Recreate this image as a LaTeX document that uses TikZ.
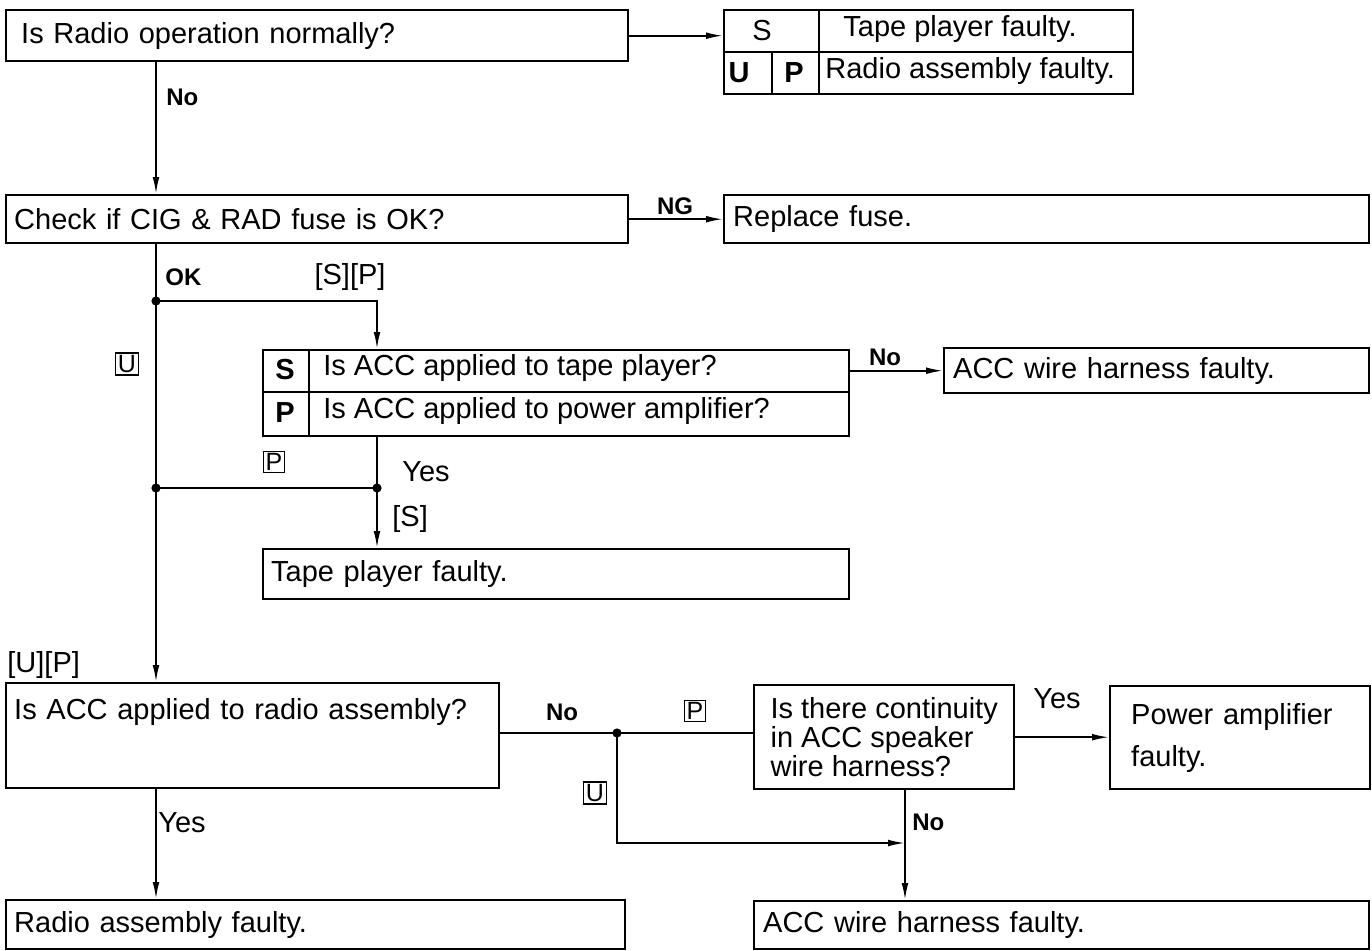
\documentclass[tikz,border=0pt]{standalone}
\usepackage{fontspec}
\setmainfont{Liberation Sans}
\usetikzlibrary{arrows.meta,calc}
\newcommand\myfont{\fontsize{14.5pt}{16.5pt}\selectfont}
\newcommand\myfontc{\fontsize{14.5pt}{14.3pt}\selectfont}
\newcommand\lblfont{\fontsize{12pt}{13pt}\selectfont\bfseries}
\newcommand\bxl[1]{{\fontsize{12.5pt}{13pt}\selectfont\setlength\fboxsep{0.8pt}\setlength\fboxrule{0.6pt}\fbox{#1}}}
\begin{document}
\begin{tikzpicture}[x=0.5pt,y=-0.5pt,
  box/.style={draw, line width=1.2pt, anchor=north west, inner ysep=0pt, align=left, font=\myfont},
  grid/.style={line width=1.1pt},
  conn/.style={line width=0.9pt},
  arr/.style={line width=0.9pt, -{Latex[length=8.5pt,width=3.4pt]}},
  lbl/.style={font=\lblfont, inner sep=0pt},
  txt/.style={font=\myfont, inner sep=0pt},
  dot/.style={fill=black}]
\useasboundingbox (0,0) rectangle (1372,950);
% ---- boxes
\node[box, minimum width=311pt, minimum height=25.5pt, text width=296pt, inner xsep=7.5pt] (b1) at (5,9) {Is Radio operation normally?};
\node[box, minimum width=311pt, minimum height=24pt, text width=303pt, inner xsep=4pt] (b2) at (5,194) {Check if CIG \& RAD fuse is OK?};
\node[box, minimum width=322.5pt, minimum height=24pt, text width=313.5pt, inner xsep=4.5pt] (rf) at (723,194) {Replace fuse.};
\node[box, minimum width=204.5pt, minimum height=42pt, inner sep=0pt] (tr) at (723,9) {};
\node[box, minimum width=293pt, minimum height=43pt, inner sep=0pt] (sp) at (262,349) {};
\node[box, minimum width=212.5pt, minimum height=22.5pt, text width=203.5pt, inner xsep=4.5pt] (acc1) at (943,347) {ACC wire harness faulty.};
\node[box, minimum width=293pt, minimum height=25pt, text width=285pt, inner xsep=4pt] (tp) at (262,548) {Tape player faulty.};
\node[box, minimum width=246.5pt, text width=238.5pt, inner xsep=4pt, text height=18pt, text depth=34.5pt] (b3) at (5,682) {Is ACC applied to radio assembly?};
\node[box, minimum width=130pt, minimum height=52pt, font=\myfontc] (cb) at (753,684) {Is there continuity\\in ACC speaker\\wire harness?};
\node[box, minimum width=130pt, minimum height=51.5pt, text width=109pt, inner xsep=10.5pt] (pa) at (1109,685) {Power amplifier\\[4.5pt]faulty.};
\node[box, minimum width=307.5pt, minimum height=24pt, text width=298.5pt, inner xsep=4.5pt] (acc2) at (753,900) {ACC wire harness faulty.};
\node[box, minimum width=309.5pt, minimum height=24.5pt, text width=301.5pt, inner xsep=4pt] (rad) at (5,899) {Radio assembly faulty.};
% ---- table internals
\draw[grid] (723,52) -- (1132,52);
\draw[grid] (819,9) -- (819,93);
\draw[grid] (772,52) -- (772,93);
\node[txt] (trS) at (762,31) {S};
\node[txt, anchor=mid west] (trT1) at (843,31) {Tape player faulty.};
\node[txt, font=\myfont\bfseries] (trU) at (739,73) {U};
\node[txt, font=\myfont\bfseries] (trP) at (794,73) {P};
\node[txt, anchor=mid west] (trT2) at (825,73) {Radio assembly faulty.};
\draw[grid] (262,392) -- (848,392);
\draw[grid] (309,349) -- (309,435);
\node[txt, font=\myfont\bfseries] (spS) at (285,370) {S};
\node[txt, anchor=mid west] (spT1) at (323,370) {Is ACC applied to tape player?};
\node[txt, font=\myfont\bfseries] (spP) at (285,413) {P};
\node[txt, anchor=mid west] (spT2) at (323,413) {Is ACC applied to power amplifier?};
% ---- junctions and corners
\coordinate (j1) at (156,301);
\coordinate (j2) at (377,488);
\coordinate (j3) at (156,488);
\coordinate (j4) at (617,733);
\coordinate (c3) at (905,843);
% ---- connectors
\draw[arr] (b1.east) -- (b1.east -| tr.west);
\draw[arr] (b1.south -| j1) -- (b2.north -| j1);
\draw[arr] (b2.east) -- (rf.west);
\draw[conn] (b2.south -| j1) -- (j1);
\draw[conn] (j1) -- (j3);
\draw[arr] (j3) -- (b3.north -| j3);
\draw[arr] (j1) -| (j2 |- sp.north);
\draw[arr] (sp.east |- acc1.west) -- (acc1.west);
\draw[conn] (sp.south -| j2) -- (j2);
\draw[arr] (j2) -- (tp.north -| j2);
\draw[conn] (j3) -- (j2);
\draw[conn] (b3.east |- j4) -- (j4) -- (j4 -| cb.west);
\draw[arr] (j4) |- (c3);
\draw[arr] (cb.east) -- (cb.east -| pa.west);
\draw[arr] (cb.south -| c3) -- (acc2.north -| c3);
\draw[arr] (b3.south -| j1) -- (rad.north -| j1);
\foreach \p in {j1,j2,j3,j4} \fill[dot] (\p) circle[radius=2.3pt];
% ---- labels
\node[lbl, anchor=west] (lNo1) at (166,97) {No};
\node[lbl] (lNG) at (675,206) {NG};
\node[lbl, anchor=west] (lOK) at (165,277) {OK};
\node[txt] (lSP) at (350,277) {[S][P]};
\node[inner sep=0pt] (lU1) at (127,364) {\bxl{U}};
\node[lbl] (lNo2) at (885,357) {No};
\node[inner sep=0pt] (lP1) at (274,462) {\bxl{P}};
\node[txt, anchor=west] (lYes1) at (402,472) {Yes};
\node[txt, anchor=west] (lS) at (392,519) {[S]};
\node[txt, anchor=west] (lUP) at (7,665) {[U][P]};
\node[lbl] (lNo3) at (562,712) {No};
\node[inner sep=0pt] (lP2) at (695,711) {\bxl{P}};
\node[inner sep=0pt] (lU2) at (595,793) {\bxl{U}};
\node[txt, anchor=west] (lYes2) at (1033,699) {Yes};
\node[lbl, anchor=west] (lNo4) at (912,822) {No};
\node[txt, anchor=west] (lYes3) at (158,823) {Yes};
\end{tikzpicture}
\end{document}
